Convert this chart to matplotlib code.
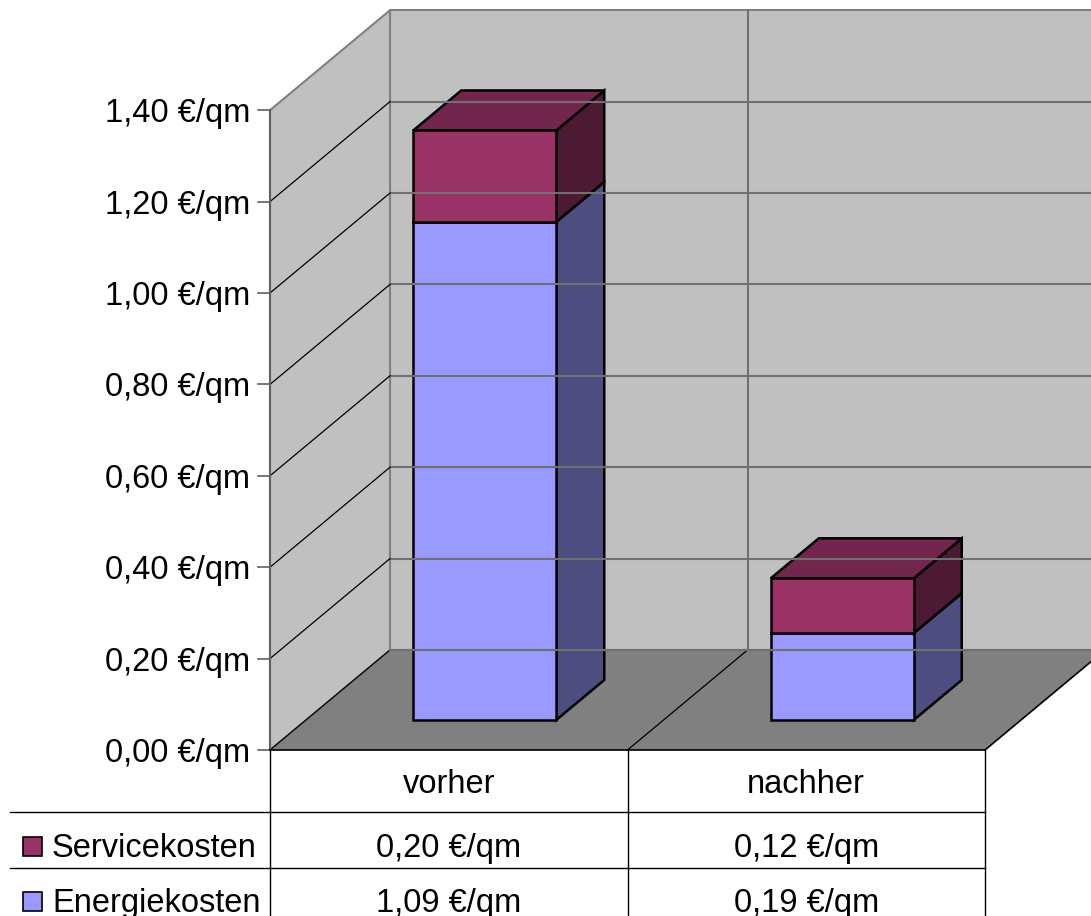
"""
Stacked 3D-style bar chart: Servicekosten / Energiekosten vorher und nachher
with a data table underneath (LibreOffice look)
"""
import matplotlib
matplotlib.use('Agg')
import matplotlib.pyplot as plt
from matplotlib.patches import Polygon, Rectangle

plt.rcParams['font.family'] = ['Liberation Sans', 'DejaVu Sans']

# Data
categories = ['vorher', 'nachher']
series_names = ['Servicekosten', 'Energiekosten']
energie = [1.09, 0.19]
service = [0.20, 0.12]
y_ticks = [0.0, 0.2, 0.4, 0.6, 0.8, 1.0, 1.2, 1.4]
y_max = 1.4

# Colours
energie_col = ['#9999ff', '#4d4d80', '#73739f']   # front, side, top
service_col = ['#993366', '#4d1a33', '#73264d']
wall_col = '#c0c0c0'
floor_col = '#808080'
edge_gray = '#808080'

# Layout of the pseudo 3D box (pixels)
X0, Y0 = 270, 750        # front left corner at value 0
CAT_W = 357.5            # width of one category on the front plane
VSCALE = 457.0           # pixels per 1.00 euro
DX, DY = 120, 100        # full depth offset
BAR_W = 0.4              # bar width in category units
BAR_D = (0.3, 0.7)       # front/back depth of the bars
FS = 23.5


def proj(cat, val, depth):
    """Map (category position, value, depth) to pixel coordinates"""
    return (X0 + cat * CAT_W + depth * DX, Y0 - val * VSCALE - depth * DY)


def euro(v):
    return f"{v:.2f}".replace('.', ',') + ' €/qm'


fig = plt.figure(figsize=(10.91, 9.16), dpi=100)
ax = fig.add_axes([0, 0, 1, 1])
ax.set_xlim(0, 1091)
ax.set_ylim(916, 0)
ax.axis('off')

ncat = len(categories)

# Walls and floor
back = [proj(0, 0, 1), proj(ncat, 0, 1), proj(ncat, y_max, 1), proj(0, y_max, 1)]
left = [proj(0, 0, 0), proj(0, 0, 1), proj(0, y_max, 1), proj(0, y_max, 0)]
floor = [proj(0, 0, 0), proj(ncat, 0, 0), proj(ncat, 0, 1), proj(0, 0, 1)]
ax.add_patch(Polygon(back, closed=True, facecolor=wall_col, edgecolor=edge_gray, lw=1.5))
ax.add_patch(Polygon(left, closed=True, facecolor=wall_col, edgecolor=edge_gray, lw=1.5))
ax.add_patch(Polygon(floor, closed=True, facecolor=floor_col, edgecolor='none'))

# Grid lines
for v in y_ticks[1:-1]:
    (xa, ya), (xb, yb) = proj(0, v, 1), proj(ncat, v, 1)
    ax.plot([xa, xb], [ya, yb], color='#707070', lw=1.5)
    (xa, ya), (xb, yb) = proj(0, v, 0), proj(0, v, 1)
    ax.plot([xa, xb], [ya, yb], color='black', lw=0.9)
for c in range(1, ncat):
    (xa, ya), (xb, yb) = proj(c, 0, 1), proj(c, y_max, 1)
    ax.plot([xa, xb], [ya, yb], color='#707070', lw=1.5)
    (xa, ya), (xb, yb) = proj(c, 0, 0), proj(c, 0, 1)
    ax.plot([xa, xb], [ya, yb], color='black', lw=0.9)
# floor edges
(xa, ya), (xb, yb) = proj(0, 0, 0), proj(0, 0, 1)
ax.plot([xa, xb], [ya, yb], color='black', lw=0.9)
(xa, ya), (xb, yb) = proj(ncat, 0, 0), proj(ncat, 0, 1)
ax.plot([xa, xb], [ya, yb], color='black', lw=1.2)
(xa, ya), (xb, yb) = proj(0, 0, 1), proj(ncat, 0, 1)
ax.plot([xa, xb], [ya, yb], color='#707070', lw=1.5)

# Y axis with ticks and labels
(xa, ya), (xb, yb) = proj(0, 0, 0), proj(0, y_max, 0)
ax.plot([xa, xb], [ya, yb], color='#606060', lw=1.5)
for v in y_ticks:
    x, y = proj(0, v, 0)
    ax.plot([x - 12, x], [y, y], color='#606060', lw=1.2)
    ax.text(x - 20, y + 12, euro(v), ha='right', va='baseline', fontsize=FS)


def draw_box(cat, v0, v1, cols, top):
    """Draw one stacked segment as a box"""
    l, r = cat + 0.5 - BAR_W / 2, cat + 0.5 + BAR_W / 2
    d0, d1 = BAR_D
    front = [proj(l, v0, d0), proj(r, v0, d0), proj(r, v1, d0), proj(l, v1, d0)]
    side = [proj(r, v0, d0), proj(r, v0, d1), proj(r, v1, d1), proj(r, v1, d0)]
    ax.add_patch(Polygon(side, closed=True, facecolor=cols[1], edgecolor='black', lw=1.8))
    if top:
        tp = [proj(l, v1, d0), proj(r, v1, d0), proj(r, v1, d1), proj(l, v1, d1)]
        ax.add_patch(Polygon(tp, closed=True, facecolor=cols[2], edgecolor='black', lw=1.8))
    ax.add_patch(Polygon(front, closed=True, facecolor=cols[0], edgecolor='black', lw=1.8))


# Bars
for i in range(ncat):
    draw_box(i, 0, energie[i], energie_col, False)
    draw_box(i, energie[i], energie[i] + service[i], service_col, True)

# Data table
row_y = [Y0, 812, 868, 930]
baselines = [793, 857, 912]
x_right = proj(ncat, 0, 0)[0]
ax.plot([X0, x_right], [row_y[0], row_y[0]], color='black', lw=1.2)
for y in row_y[1:3]:
    ax.plot([10, x_right], [y, y], color='black', lw=1.0)
for c in range(ncat + 1):
    x = proj(c, 0, 0)[0]
    ax.plot([x, x], [row_y[0], 916], color='black', lw=1.0)

for i, cat in enumerate(categories):
    xc = proj(i + 0.5, 0, 0)[0]
    ax.text(xc, baselines[0], cat, ha='center', va='baseline', fontsize=FS)
    ax.text(xc, baselines[1], euro(service[i]), ha='center', va='baseline', fontsize=FS)
    ax.text(xc, baselines[2], euro(energie[i]), ha='center', va='baseline', fontsize=FS)

# row labels with legend keys
for name, col, base in [(series_names[0], service_col[0], baselines[1]),
                        (series_names[1], energie_col[0], baselines[2])]:
    ax.add_patch(Rectangle((23, base - 20), 19, 19, facecolor=col, edgecolor='black', lw=1.2))
    ax.text(52, base, name, ha='left', va='baseline', fontsize=FS)

fig.savefig('out.png', dpi=100)
plt.close(fig)
